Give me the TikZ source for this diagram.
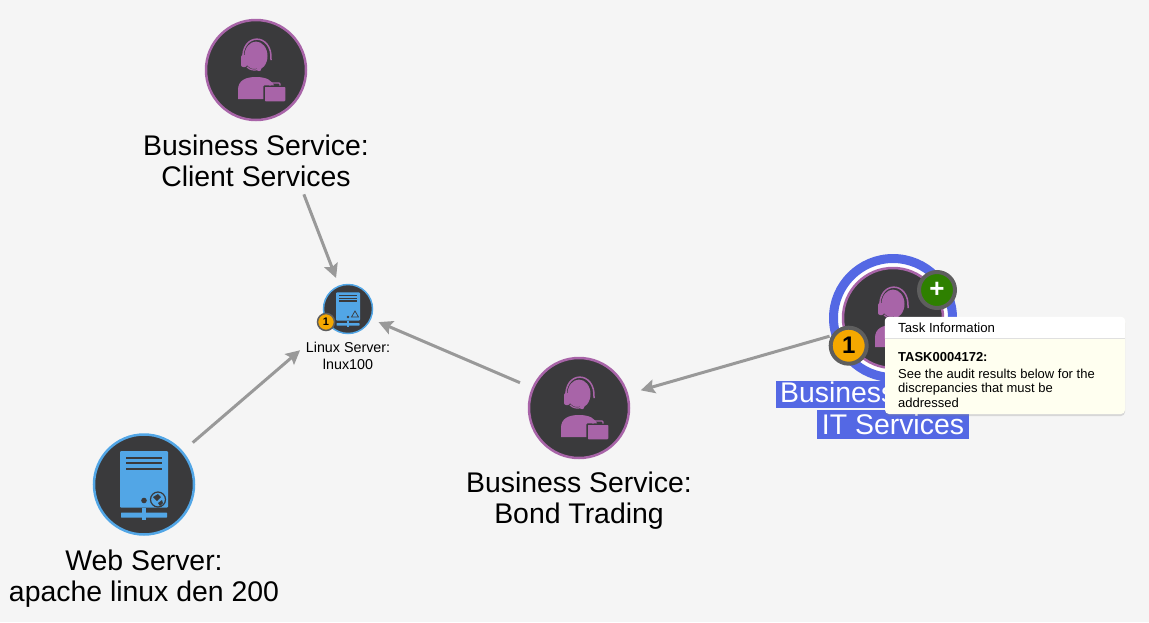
\documentclass[tikz,border=0pt]{standalone}
\usepackage{fontspec}
\setmainfont{Liberation Sans}
\usetikzlibrary{arrows.meta,shadows}
\definecolor{bggray}{HTML}{F5F5F5}
\definecolor{darkfill}{HTML}{3A3A3C}
\definecolor{personpurple}{HTML}{A864A8}
\definecolor{serverblue}{HTML}{52A6E6}
\definecolor{ringblue}{HTML}{5468E4}
\definecolor{arrowgray}{HTML}{999999}
\definecolor{badgegray}{HTML}{5E5E5E}
\definecolor{badgeorange}{HTML}{F5A800}
\definecolor{badgegreen}{HTML}{2E8000}
\definecolor{tipyellow}{HTML}{FFFFF0}
\tikzset{
    personicon/.pic={
        \fill[personpurple] (0,-14) ellipse [x radius=11.5, y radius=14.5];
        \draw[personpurple, line width=1.5pt] (-13,-9) .. controls (-16,-38) and (17,-38) .. (15,-10);
        \fill[personpurple, rounded corners=2pt] (-15,-15) rectangle (-9,-3);
        \draw[darkfill, line width=2pt] (-9,-3) .. controls (-6,0) and (-2,1) .. (3,-1);
        \draw[personpurple, line width=1.2pt] (-9,-3) .. controls (-6,0) and (-2,1) .. (3,-1);
        \fill[personpurple] (3,-1) circle (2.2);
        \fill[personpurple] (-18,29) -- (-18,20) .. controls (-18,10) and (-10,7) .. (0,7) .. controls (10,7) and (17,10) .. (19,18) -- (19,29) -- cycle;
        \draw[darkfill, line width=1.5pt, fill=personpurple, rounded corners=1pt] (8,16) rectangle (30,32);
        \draw[personpurple, line width=1.2pt, rounded corners=1pt] (14,15.5) -- (14,13) -- (24,13) -- (24,15.5);
    },
    pics/servericon/.style={code={
        \fill[serverblue, rounded corners=1pt] (-24,-33.5) rectangle (24,23);
        \foreach \liney in {-27,-21.5,-16}
            \draw[darkfill, line width=#1] (-18,\liney) -- (18,\liney);
        \fill[darkfill] (0,16) circle (2.8);
        \fill[serverblue, rounded corners=.5pt] (-23,28) rectangle (23,33);
        \fill[serverblue] (-2,23) rectangle (2,35);
    }}
}
\begin{document}
\begin{tikzpicture}[
    x=1pt, y=-1pt,
    bignode/.style={circle, draw=#1, line width=2.5pt, fill=darkfill, minimum size=100pt, inner sep=0pt},
    smallnode/.style={circle, draw=serverblue, line width=1.5pt, fill=darkfill, minimum size=49pt, inner sep=0pt},
    biglabel/.style={align=center, inner sep=0pt, font=\fontsize{28.4}{31}\selectfont},
    smalllabel/.style={align=center, inner sep=0pt, font=\fontsize{14.3}{17}\selectfont},
    hilabel/.style={fill=ringblue, text=white, inner xsep=4.5pt, inner ysep=0pt, font=\fontsize{28.4}{31}\selectfont},
    badge/.style={circle, draw=badgegray, fill=#1, line width=4pt, minimum size=36pt, inner sep=0pt},
    arrow/.style={-{Stealth[length=14pt, width=14pt, inset=2.5pt]}, arrowgray, line width=3pt}
    ]

    \fill[bggray] (0,0) rectangle (1149,622);

    % circles
    \node (client) [bignode=personpurple] at (256,70) {};
    \node (linux) [smallnode] at (348,309) {};
    \node (web) [bignode=serverblue] at (144,484.5) {};
    \node (bond) [bignode=personpurple] at (579,408) {};
    \node (itring) [circle, draw=ringblue, fill=white, line width=9pt, minimum size=119pt, inner sep=0pt] at (893,318) {};
    \node (it) [bignode=personpurple] at (893,318) {};

    \pic at (client) {personicon};
    \pic at (bond) {personicon};
    \pic at (it) {personicon};
    \pic at (web) {servericon=2pt};
    \pic[scale=.5] at (linux) {servericon=1.1pt};

    % globe on the web server, warning mark on the linux server
    \draw[darkfill, line width=1.2pt, fill=serverblue] (158,499.5) circle (7.5);
    \fill[darkfill] (153,497) -- (158,494) -- (161,497) -- (157,501) -- cycle;
    \fill[darkfill] (158,503) -- (162,500) -- (163,503) -- (160,506) -- cycle;
    \draw[darkfill, line width=.7pt] (355,311) -- (351.5,317) -- (358.5,317) -- cycle;

    % labels
    \node (clientlabel) [biglabel, below of=client, node distance=91pt] {Business Service:\\Client Services};
    \node (linuxlabel) [smalllabel, below of=linux, node distance=47pt] {Linux Server:\\lnux100};
    \node (weblabel) [biglabel, below of=web, node distance=94pt] {Web Server:\\apache linux den 200};
    \node (bondlabel) [biglabel, below of=bond, node distance=93pt] {Business Service:\\Bond Trading};
    \node (itlabel) [hilabel, text height=21pt, text depth=6pt, below of=it, node distance=76.5pt] {Business Service:};
    \node (itlabeltwo) [hilabel, text height=24pt, text depth=5pt, below of=it, node distance=106.5pt] {IT Services};

    \draw[arrow, shorten <=82pt, shorten >=8pt] (client) -- (linux);
    \draw[arrow, shorten <=13pt, shorten >=38pt] (web) -- (linux);
    \draw[arrow, shorten <=13pt, shorten >=8pt] (bond) -- (linux);
    \draw[arrow, shorten <=2pt, shorten >=13pt] (itring) -- (bond);

    % badges
    \node (linuxbadge) [badge=badgeorange, line width=1.5pt, minimum size=17pt, font=\fontsize{11}{11}\selectfont\bfseries] at (326,322) {1};
    \node (itbadge) [badge=badgeorange, font=\fontsize{24}{24}\selectfont\bfseries] at (848.7,345.7) {1};
    \node (plusbadge) [badge=badgegreen, text=white, font=\fontsize{26}{26}\selectfont\bfseries] at (937,290) {+};

    % task popup
    \node (tip) [fill=tipyellow, rounded corners=4pt, minimum width=240pt, minimum height=97pt, inner sep=0pt, drop shadow={shadow xshift=0pt, shadow yshift=-2pt, opacity=.25}] at (1005,365.5) {};
    \fill[white] (tip.west |- 0,338.5) [rounded corners=4pt] -- (tip.north west) -- (tip.north east) [sharp corners] -- (tip.east |- 0,338.5) -- cycle;
    \draw[black!12, line width=.6pt] (tip.west |- 0,338.5) -- (tip.east |- 0,338.5);
    \node (tiptitle) [anchor=west, inner sep=0pt, font=\fontsize{13.2}{15}\selectfont] at (898,328) {Task Information};
    \node (tiptext) [anchor=north west, align=left, inner sep=0pt, font=\fontsize{13}{14.8}\selectfont] at (898,352) {\textbf{TASK0004172:}\\[2pt]See the audit results below for the\\discrepancies that must be\\addressed};

\end{tikzpicture}
\end{document}
